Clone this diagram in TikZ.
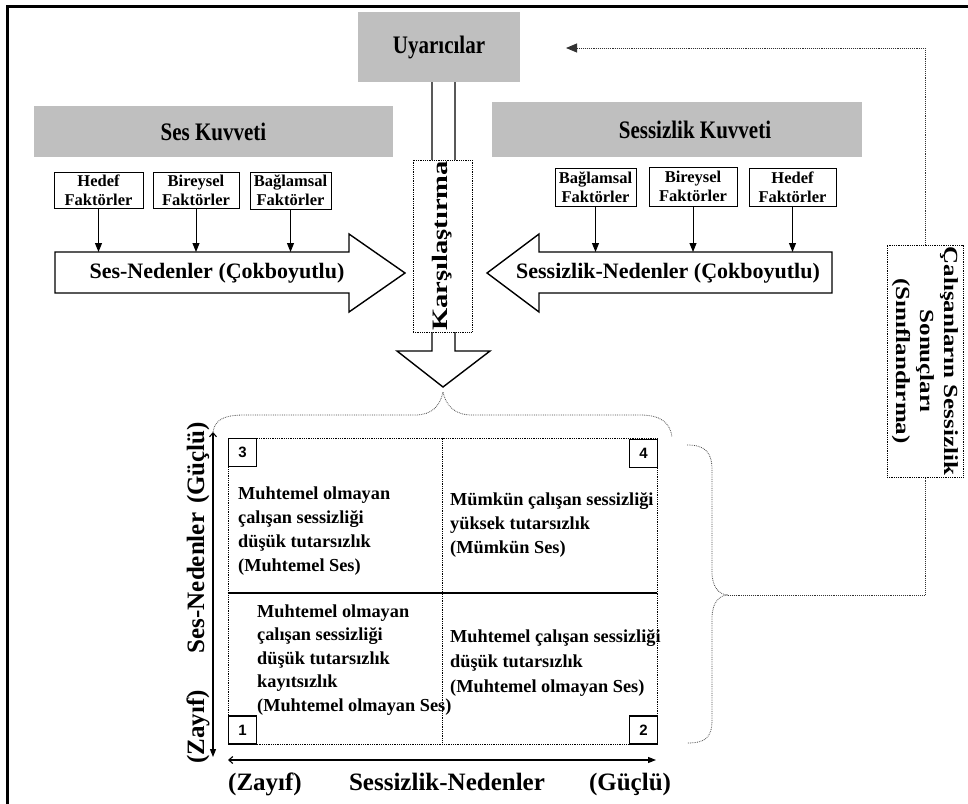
\documentclass[tikz,border=0pt]{standalone}
\usepackage{fontspec}
\setmainfont{Liberation Serif}
\newfontfamily\numfont{Liberation Sans}
\usepackage{graphicx}
\usetikzlibrary{arrows.meta}
\newcommand\hdrtxt[1]{\scalebox{1}[1.2]{\fontsize{21}{24}\selectfont\bfseries #1}}
\begin{document}
\begin{tikzpicture}[x=1pt,y=-1pt,
  gbox/.style={fill=black!25, draw=none, inner sep=0pt},
  fbox/.style={draw=black, line width=1pt, fill=white, inner sep=0pt, align=center, font=\bfseries\fontsize{16.5}{19}\selectfont},
  dbox/.style={draw=black, densely dotted, line width=0.8pt, fill=white, inner sep=0pt},
  blk/.style={draw=black, line width=1.4pt, fill=white, line join=miter},
  farr/.style={line width=1pt, -{Triangle[length=9pt,width=7pt]}},
  axarr/.style={line width=1.1pt, {Straight Barb[length=4pt,width=7pt]}-{Triangle[length=8pt,width=6pt]}},
  brace/.style={draw=black!70, densely dotted, line width=0.8pt},
  fb/.style={draw=black!80, densely dotted, line width=0.9pt},
  qtxt/.style={inner sep=0pt, anchor=north west, align=left, font=\bfseries\fontsize{18.3}{24}\selectfont},
  axlbl/.style={inner sep=0pt, anchor=base, font=\bfseries\fontsize{25}{28}\selectfont},
  nbox/.style={draw=black, line width=1.2pt, fill=white, minimum size=28pt, inner sep=0pt, font=\numfont\bfseries\fontsize{15}{15}\selectfont},
  bigtxt/.style={inner sep=0pt, font=\bfseries\fontsize{22}{24}\selectfont}
]
\useasboundingbox (0,0) rectangle (968,803);
% frame
\draw[line width=3pt] (7,805) -- (7,6) -- (970,6);

% stimuli
\node[gbox, minimum width=162pt, minimum height=70pt] (uy) at (439,47) {\hdrtxt{Uyarıcılar}};

% comparison arrow (shaft from stimuli down)
\draw[blk] (uy.south -| 432,0) -- (432,351) -- (397,351) -- (443,387) -- (490,351) -- (455,351) -- (uy.south -| 455,0);
\node[dbox, minimum width=59pt, minimum height=172pt] (kars) at (442.5,246)
  {\rotatebox{90}{\scalebox{1.3}[1]{\fontsize{22}{22}\selectfont\bfseries Karşılaştırma}}};

% force headers
\node[gbox, minimum width=359pt, minimum height=51pt] (sk) at (213.5,131.5) {\hdrtxt{Ses Kuvveti}};
\node[gbox, minimum width=370pt, minimum height=55pt] (slk) at (677,129.5) {\hspace*{36pt}\hdrtxt{Sessizlik Kuvveti}};

% left factor boxes
\node[fbox, minimum width=89pt, minimum height=36pt] (lh) at (98.5,190) {Hedef\\Faktörler};
\node[fbox, minimum width=86pt, minimum height=36pt] (lb) at (196,190) {Bireysel\\Faktörler};
\node[fbox, minimum width=81pt, minimum height=37pt] (lg) at (290.5,190.5) {Bağlamsal\\Faktörler};
% right factor boxes
\node[fbox, minimum width=81pt, minimum height=38pt] (rg) at (595.5,187) {Bağlamsal\\Faktörler};
\node[fbox, minimum width=88pt, minimum height=39pt] (rb) at (693,186.5) {Bireysel\\Faktörler};
\node[fbox, minimum width=87pt, minimum height=38pt] (rh) at (792.5,187) {Hedef\\Faktörler};

% big block arrows
\draw[blk] (55,252) -- (349,252) -- (349,234) -- (405,273) -- (349,312) -- (349,293) -- (55,293) -- cycle;
\draw[blk] (832,252) -- (539,252) -- (539,234) -- (487,273) -- (539,312) -- (539,293) -- (832,293) -- cycle;
\node[bigtxt] (sesN) at (217,273) {Ses-Nedenler (Çokboyutlu)};
\node[bigtxt] (sesizN) at (668,273) {Sessizlik-Nedenler (Çokboyutlu)};
\coordinate (bodytop) at (0,252);

\draw[farr] (lh.south) -- (lh.south |- bodytop);
\draw[farr] (lb.south) -- (lb.south |- bodytop);
\draw[farr] (lg.south) -- (lg.south |- bodytop);
\draw[farr] (rg.south) -- (rg.south |- bodytop);
\draw[farr] (rb.south) -- (rb.south |- bodytop);
\draw[farr] (rh.south) -- (rh.south |- bodytop);

% top brace
\draw[brace] (213,432) .. controls (215,419) and (225,415) .. (245,415) -- (415,415)
  .. controls (432,415) and (440,406) .. (443,392) .. controls (446,406) and (455,415) .. (472,415)
  -- (640,415) .. controls (660,415) and (670,422) .. (672,437);

% matrix
\node[dbox, fill=none, minimum width=429pt, minimum height=306pt] (mx) at (442.5,591) {};
\draw[densely dotted, line width=0.8pt] (mx.north) -- (mx.south);
\coordinate (hl) at (0,593);
\draw[line width=1.2pt] (mx.west |- hl) -- (mx.east |- hl);
\node[nbox] (n3) at (242.5,452.5) {3};
\node[nbox] (n4) at (643.5,453.5) {4};
\node[nbox] (n1) at (242.5,730) {1};
\node[nbox] (n2) at (643.5,730) {2};

\node[qtxt] (q3) at (238,486.5) {Muhtemel olmayan\\çalışan sessizliği\\düşük tutarsızlık\\(Muhtemel Ses)};
\node[qtxt] (q4) at (450,492.5) {Mümkün çalışan sessizliği\\yüksek tutarsızlık\\(Mümkün Ses)};
\node[qtxt, font=\bfseries\fontsize{18.3}{23.5}\selectfont] (q1) at (257,604.5) {Muhtemel olmayan\\çalışan sessizliği\\düşük tutarsızlık\\kayıtsızlık\\(Muhtemel olmayan Ses)};
\node[qtxt, font=\bfseries\fontsize{18.3}{25}\selectfont] (q2) at (450,629.5) {Muhtemel çalışan sessizliği\\düşük tutarsızlık\\(Muhtemel olmayan Ses)};

% axes
\coordinate (vtop) at (213,432);
\coordinate (vbot) at (213,757);
\coordinate (hleft) at (228,760);
\coordinate (hright) at (656,760);
\draw[axarr] (vtop) -- (vbot);
\draw[axarr] (hleft) -- (hright);
\node[axlbl, rotate=90] (yg) at (204,463) {(Güçlü)};
\node[axlbl, rotate=90] (yn) at (204,583) {Ses-Nedenler};
\node[axlbl, rotate=90] (yz) at (204,727) {(Zayıf)};
\node[axlbl] (xz) at (265,790) {(Zayıf)};
\node[axlbl] (xn) at (447,790) {Sessizlik-Nedenler};
\node[axlbl] (xg) at (630,790) {(Güçlü)};

% right brace
\draw[brace] (687,445) .. controls (705,445) and (712,452) .. (712,470) -- (712,572)
  .. controls (712,588) and (720,595) .. (728,595) .. controls (720,595) and (712,602) .. (712,618)
  -- (712,720) .. controls (712,738) and (705,743) .. (687,743);
\coordinate (cusp) at (728,595);

% outcomes box
\node[dbox, minimum width=76pt, minimum height=232pt] (out) at (925,361)
  {\rotatebox{-90}{\scalebox{1.25}[1]{\fontsize{20}{24}\selectfont\bfseries\begin{tabular}{@{}c@{}}Çalışanların Sessizlik\\Sonuçları\\(Sınıflandırma)\end{tabular}}}};
\coordinate (fbend) at (566,48);
\draw[fb] (cusp) -| (out.south);
\draw[fb, -{Triangle[length=11pt,width=9pt]}] (out.north) |- (fbend);
\end{tikzpicture}
\end{document}
